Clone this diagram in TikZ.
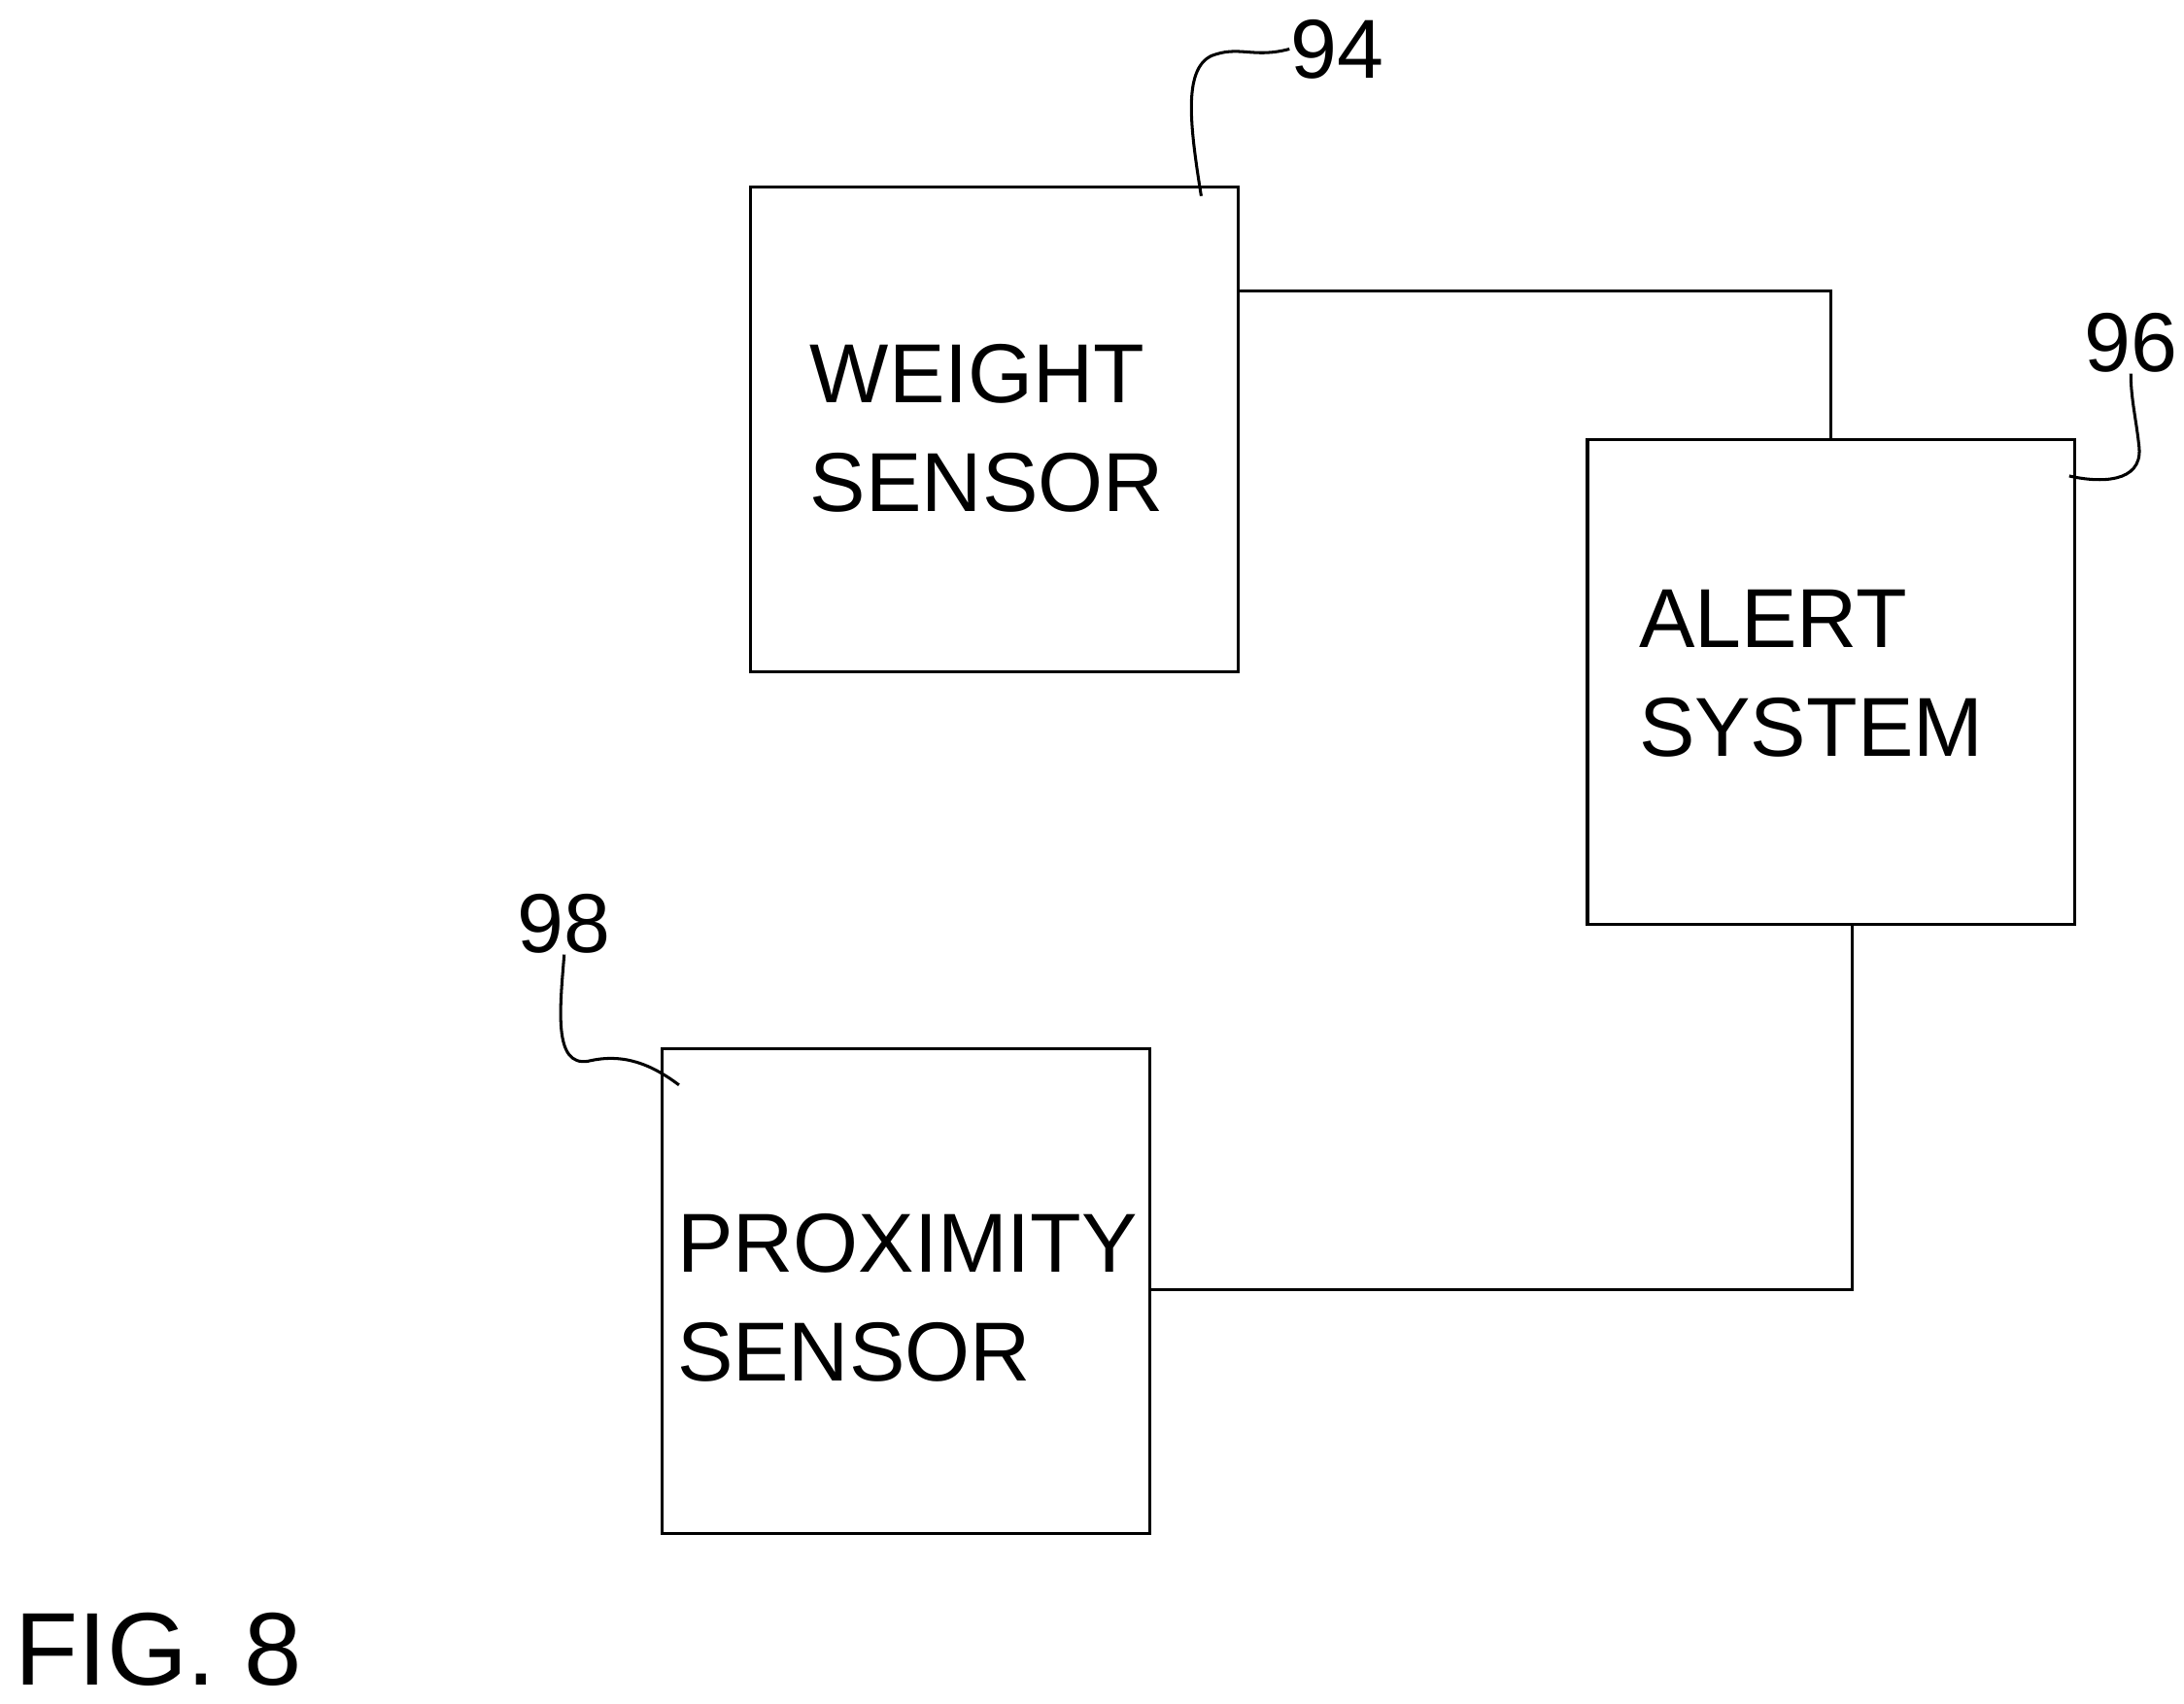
\documentclass[tikz,border=0pt]{standalone}
\usepackage{fontspec}
\setmainfont{Liberation Sans}
\begin{document}
\begin{tikzpicture}[x=0.01cm,y=-0.01cm,
  block/.style={draw,line width=0.6pt,minimum width=3.48cm,minimum height=3.46cm,inner sep=0pt},
  btext/.style={font=\fontsize{17}{22}\selectfont,align=left,anchor=west,inner sep=0pt},
  refnum/.style={font=\fontsize{17}{22}\selectfont,inner sep=0pt},
  wire/.style={line width=0.6pt}]
  \useasboundingbox (0,0) rectangle (1560,1217);
  % blocks
  \node[block] (weight) at (710,307) {};
  \node[block] (alert)  at (1308,487) {};
  \node[block] (prox)   at (647,922) {};
  \node[btext] (weightT) at (578,306) {WEIGHT\\SENSOR};
  \node[btext] (alertT)  at (1170,481) {ALERT\\SYSTEM};
  \node[btext] (proxT)   at (483,927) {PROXIMITY\\SENSOR};
  % connectors
  \coordinate (c1) at (1308,208);
  \coordinate (c2) at (1323,921);
  \draw[wire] (weight.east |- c1) -- (c1) -- (alert.north);
  \draw[wire] (alert.south -| c2) -- (c2) -- (prox.east |- c2);
  % reference numerals
  \node[refnum] (n94) at (955,35) {94};
  \node[refnum] (n96) at (1522,245) {96};
  \node[refnum] (n98) at (403,660) {98};
  \coordinate (l94) at (858,140);
  \coordinate (l96) at (1478,340);
  \coordinate (l98) at (485,775);
  \draw[wire] (l94) .. controls (850,90) and (845,50) .. (865,40) .. controls (885,32) and (895,42) .. (n94.west);
  \draw[wire] (l96) .. controls (1500,345) and (1530,345) .. (1528,320) .. controls (1526,300) and (1522,285) .. (n96.south);
  \draw[wire] (l98) .. controls (465,760) and (445,752) .. (420,758) .. controls (395,762) and (400,720) .. (n98.south);
  % figure label
  \node[font=\fontsize{21}{26}\selectfont,anchor=west,inner sep=0pt] (fig) at (10,1178) {FIG. 8};
\end{tikzpicture}
\end{document}
